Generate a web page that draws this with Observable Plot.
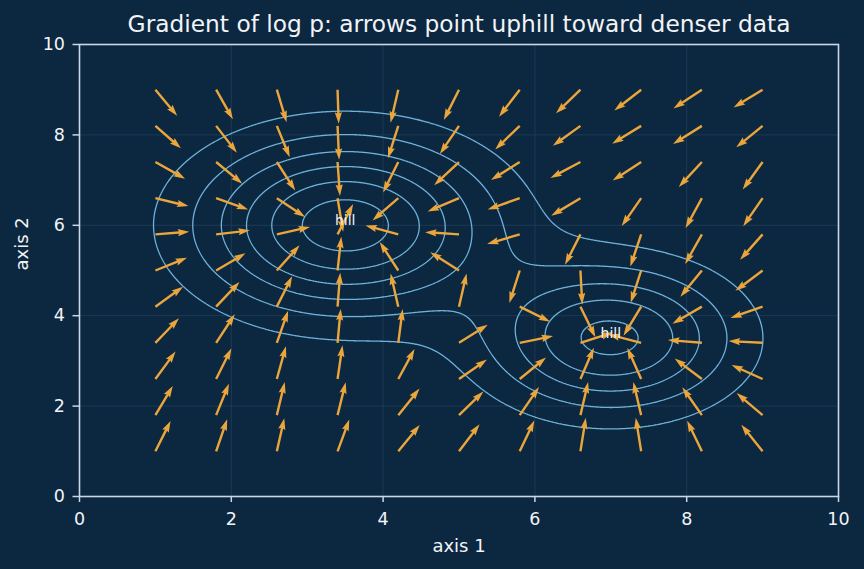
<!DOCTYPE html>
<html><head><meta charset="utf-8">
<script src="https://cdn.jsdelivr.net/npm/d3@7"></script>
<script src="https://cdn.jsdelivr.net/npm/@observablehq/plot@0.6"></script>
<style>
html,body{margin:0;padding:0;background:#0c2740;}
#chart svg{display:block;}
</style></head><body><div id="chart"></div>
<script>
// ---- data ----
const gridX = [1.0, 1.8, 2.6, 3.4, 4.2, 5.0, 5.8, 6.6, 7.4, 8.2, 9.0];
const gridY = [1.0, 1.8, 2.6, 3.4, 4.2, 5.0, 5.8, 6.6, 7.4, 8.2, 9.0];
const hillX = [3.5, 7.0];
const hillY = [6.0, 3.5];
const hillSigma = [1.3, 1.1];
const hillWeight = [0.7, 0.4];
const hillLabels = ["hill", "hill"];
const contourLevels = [0.01, 0.02, 0.03, 0.04, 0.05, 0.06];
const xTicks = [0, 2, 4, 6, 8, 10];
const yTicks = [0, 2, 4, 6, 8, 10];
const gridTicks = [2, 4, 6, 8];
const titleText = "Gradient of log p: arrows point uphill toward denser data";
const xLabel = "axis 1";
const yLabel = "axis 2";

// ---- density of the two-hill mixture and its log-gradient ----
function comp(i, x, y) {
  const s2 = hillSigma[i] * hillSigma[i];
  const dx = x - hillX[i], dy = y - hillY[i];
  return hillWeight[i] / (2 * Math.PI * s2) * Math.exp(-(dx * dx + dy * dy) / (2 * s2));
}
function density(x, y) {
  let p = 0;
  for (let i = 0; i < hillX.length; ++i) p += comp(i, x, y);
  return p;
}
function gradLog(x, y) {
  let gx = 0, gy = 0, p = 0;
  for (let i = 0; i < hillX.length; ++i) {
    const c = comp(i, x, y), s2 = hillSigma[i] * hillSigma[i];
    p += c;
    gx += -c * (x - hillX[i]) / s2;
    gy += -c * (y - hillY[i]) / s2;
  }
  return [gx / p, gy / p];
}

const arrows = [];
for (const gx of gridX) for (const gy of gridY) {
  const [u, v] = gradLog(gx, gy);
  arrows.push({x: gx, y: gy, angle: Math.atan2(u, v) * 180 / Math.PI});
}
const hills = hillX.map((x, i) => ({x, y: hillY[i], label: hillLabels[i]}));

// quiver-style filled arrow
const quiverShape = {
  draw(ctx, l) {
    const hw = 1.2, hh = 3.6, hl = 11.5, hal = 10.3;
    ctx.moveTo(-hw, 0);
    ctx.lineTo(-hw, -(l - hal));
    ctx.lineTo(-hh, -(l - hl));
    ctx.lineTo(0, -l);
    ctx.lineTo(hh, -(l - hl));
    ctx.lineTo(hw, -(l - hal));
    ctx.lineTo(hw, 0);
    ctx.closePath();
  }
};

const BG = "#0c2740", FRAME = "#c9d7e6", TEXT = "#f2f4f7", GRID = "#203f5c";
const CONTOUR = "#6eb2da", ARROW = "#eaa63c";

const chart = Plot.plot({
  width: 864,
  height: 569,
  marginLeft: 79,
  marginRight: 26,
  marginTop: 44,
  marginBottom: 73,
  style: {background: BG, color: TEXT, fontFamily: "DejaVu Sans"},
  x: {domain: [0, 10], label: null},
  y: {domain: [0, 10], label: null},
  marks: [
    Plot.gridX(gridTicks, {stroke: GRID, strokeOpacity: 1, strokeWidth: 0.8}),
    Plot.gridY(gridTicks, {stroke: GRID, strokeOpacity: 1, strokeWidth: 0.8}),
    Plot.contour({
      x1: 0, y1: 0, x2: 10, y2: 10,
      value: density,
      thresholds: contourLevels,
      pixelSize: 1,
      fill: "none",
      stroke: CONTOUR,
      strokeWidth: 1.3
    }),
    Plot.vector(arrows, {
      x: "x", y: "y", rotate: "angle", length: 34, anchor: "start",
      shape: quiverShape, fill: ARROW, stroke: "none"
    }),
    Plot.text(hills, {x: "x", y: "y", text: "label", fill: TEXT, fontSize: 14, lineAnchor: "bottom", textAnchor: "middle"}),
    Plot.frame({stroke: FRAME, strokeWidth: 1.6}),
    Plot.axisX(xTicks, {anchor: "bottom", tickSize: 6, tickPadding: 10, fontSize: 17.5, stroke: FRAME, fill: TEXT, strokeWidth: 1.5, label: null}),
    Plot.axisY(yTicks, {anchor: "left", tickSize: 6.5, tickPadding: 8, fontSize: 17.5, stroke: FRAME, fill: TEXT, strokeWidth: 1.5, label: null}),
    Plot.text([titleText], {frameAnchor: "top", dy: -12.3, lineAnchor: "bottom", fontSize: 23.3, fill: TEXT}),
    Plot.text([xLabel], {frameAnchor: "bottom", dy: 55.7, lineAnchor: "bottom", fontSize: 18, fill: TEXT}),
    Plot.text([yLabel], {frameAnchor: "left", dx: -57, rotate: -90, lineAnchor: "middle", fontSize: 18, fill: TEXT})
  ]
});
document.getElementById("chart").appendChild(chart);
</script>
</body></html>
